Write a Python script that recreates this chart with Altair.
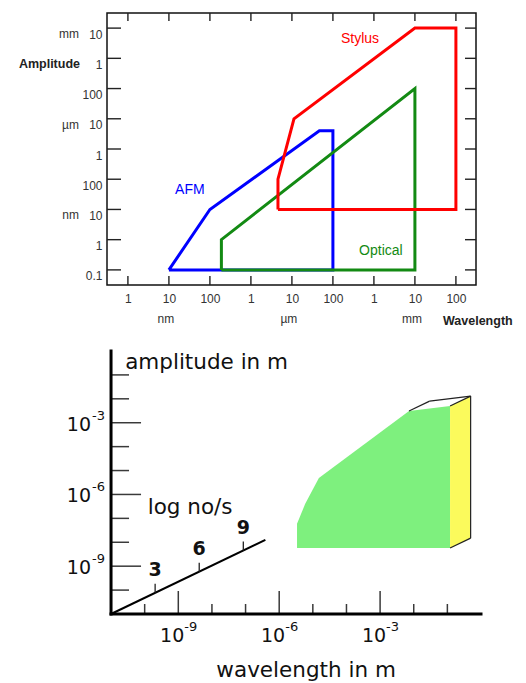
import altair as alt
import pandas as pd

# ================= Panel A: instrument ranges (log10 of metres) =================
instruments = ["AFM", "Optical", "Stylus"]
inst_colors = ["#0000ff", "#138a13", "#ff0000"]

afm_x = [-8.0, -7.0, -4.33, -4.0, -4.0, -8.0]
afm_y = [-10.0, -8.0, -5.4, -5.4, -10.0, -10.0]
optical_x = [-6.72, -6.72, -2.0, -2.0, -6.72]
optical_y = [-10.0, -9.0, -4.0, -10.0, -10.0]
stylus_x = [-5.34, -5.34, -4.95, -2.0, -1.0, -1.0, -5.34]
stylus_y = [-8.0, -7.0, -5.0, -2.0, -2.0, -8.0, -8.0]

inst_label_x = [-7.49, -2.83, -3.34]
inst_label_y = [-7.36, -9.36, -2.36]

xA_domain = [-9.51, -0.51]
yA_domain = [-10.5, -1.5]
xA_ticks = [-9, -8, -7, -6, -5, -4, -3, -2, -1]
xA_tick_labels = ["1", "10", "100", "1", "10", "100", "1", "10", "100"]
yA_ticks = [-10, -9, -8, -7, -6, -5, -4, -3, -2]
yA_tick_labels = ["0.1", "1", "10", "100", "1", "10", "100", "1", "10"]
unit_names = ["nm", "µm", "mm"]
unit_pos = [-8, -5, -2]
amp_title_pos = -3

# ================= Panel B: sketch (log10 of metres) =================
xB_domain = [-11.12, 0.0]
yB_domain = [-11.0, 0.0]
origin = -11.0
axis_end = 0.0
yB_major = [-3, -6, -9]
yB_minor = [-1, -2, -4, -5, -7, -8, -10]
xB_major = [-9, -6, -3]
xB_minor = [-10, -8, -7, -5, -4, -2, -1]
yB_exps = ["-3", "-6", "-9"]
xB_exps = ["-9", "-6", "-3"]

front_x = [-5.47, -5.23, -4.82, -2.14, -0.92]
front_top = [-7.23, -6.40, -5.31, -2.51, -2.30]
front_bottom = -8.24
box_depth = 1.4          # in log no/s units

rate_ticks = [3, 6, 9]
rate_end = 10.5
proj_dx = 0.437          # wavelength decades per log no/s unit (oblique axis)
proj_dy = 0.295          # amplitude decades per log no/s unit (oblique axis)

# ---------------- sizes / styles ----------------
WA, HA = 369, 272
WB, HB = 374, 263
kxB = WB / (xB_domain[1] - xB_domain[0])
kyB = HB / (yB_domain[1] - yB_domain[0])
FONT_A = "Liberation Sans"
FONT_B = "DejaVu Sans"


def arr_expr(labels, first):
    return "[" + ",".join("'" + s + "'" for s in labels) + "][datum.value - (" + str(first) + ")]"


axisXA = alt.Axis(values=xA_ticks, labelExpr=arr_expr(xA_tick_labels, xA_ticks[0]),
                  ticks=False, domain=False, grid=False, title=None, labelPadding=8,
                  labelFontSize=12, labelFont=FONT_A, labelColor="#333333", labelAngle=0,
                  labelFlush=False, labelOverlap=False)
axisYA = alt.Axis(values=yA_ticks, labelExpr=arr_expr(yA_tick_labels, yA_ticks[0]),
                  ticks=False, domain=False, grid=False, title=None, labelPadding=5,
                  labelOffset=6, labelFontSize=12, labelFont=FONT_A, labelColor="#333333",
                  labelFlush=False, labelOverlap=False)


def XA(f="x"):
    return alt.X(f + ":Q", scale=alt.Scale(domain=xA_domain, nice=False, zero=False), axis=axisXA)


def YA(f="y"):
    return alt.Y(f + ":Q", scale=alt.Scale(domain=yA_domain, nice=False, zero=False), axis=axisYA)


def XB(f="x"):
    return alt.X(f + ":Q", scale=alt.Scale(domain=xB_domain, nice=False, zero=False), axis=None)


def YB(f="y"):
    return alt.Y(f + ":Q", scale=alt.Scale(domain=yB_domain, nice=False, zero=False), axis=None)


# ---------------- Panel A layers ----------------
frame_df = pd.DataFrame({"x": [xA_domain[0]], "x2": [xA_domain[1]],
                         "y": [yA_domain[0]], "y2": [yA_domain[1]]})
frame = alt.Chart(frame_df).mark_rect(fill="white", stroke="#111111", strokeWidth=1.5).encode(
    x=XA(), x2="x2:Q", y=YA(), y2="y2:Q")

ytick_df = pd.DataFrame({"y": yA_ticks})
xtick_df = pd.DataFrame({"x": xA_ticks})
tick_style = dict(color="#222222", strokeWidth=1.4)
t_left = alt.Chart(ytick_df).mark_rule(**tick_style).encode(y=YA(), x=alt.value(0), x2=alt.value(14))
t_right = alt.Chart(ytick_df).mark_rule(**tick_style).encode(y=YA(), x=alt.value(WA - 11), x2=alt.value(WA))
t_bottom = alt.Chart(xtick_df).mark_rule(**tick_style).encode(x=XA(), y=alt.value(HA - 9), y2=alt.value(HA))
t_top = alt.Chart(xtick_df).mark_rule(**tick_style).encode(x=XA(), y=alt.value(0), y2=alt.value(8))

rows = []
for name, xs, ys in [("AFM", afm_x, afm_y), ("Optical", optical_x, optical_y), ("Stylus", stylus_x, stylus_y)]:
    for i, (a, b) in enumerate(zip(xs, ys)):
        rows.append({"instrument": name, "idx": i, "x": a, "y": b})
poly_df = pd.DataFrame(rows)
color_enc = alt.Color("instrument:N", scale=alt.Scale(domain=instruments, range=inst_colors), legend=None)
polys = alt.Chart(poly_df).mark_line(strokeWidth=3, strokeJoin="miter").encode(
    x=XA(), y=YA(), color=color_enc, detail="instrument:N", order="idx:Q")

lab_df = pd.DataFrame({"instrument": instruments, "x": inst_label_x, "y": inst_label_y})
inst_labels = alt.Chart(lab_df).mark_text(fontSize=14, font=FONT_A).encode(
    x=XA(), y=YA(), text="instrument:N", color=color_enc)

yunit_df = pd.DataFrame({"y": unit_pos, "t": unit_names})
yunits = alt.Chart(yunit_df).mark_text(align="right", baseline="middle", fontSize=12, font=FONT_A,
                                       dy=6, color="#333333").encode(
    y=YA(), x=alt.value(-28), text="t:N")
amp_df = pd.DataFrame({"y": [amp_title_pos], "t": ["Amplitude"]})
amp_title = alt.Chart(amp_df).mark_text(align="right", baseline="middle", fontSize=12.5, font=FONT_A,
                                        fontWeight="bold", dy=6, color="#222222").encode(
    y=YA(), x=alt.value(-27), text="t:N")
xunit_df = pd.DataFrame({"x": unit_pos, "t": unit_names})
xunits = alt.Chart(xunit_df).mark_text(baseline="middle", fontSize=12, font=FONT_A, dx=-3,
                                       color="#333333").encode(
    x=XA(), y=alt.value(HA + 34), text="t:N")
wl_df = pd.DataFrame({"t": ["Wavelength"]})
wl_title = alt.Chart(wl_df).mark_text(align="left", baseline="middle", fontSize=12.5, font=FONT_A,
                                      fontWeight="bold", color="#222222").encode(
    x=alt.value(WA - 33), y=alt.value(HA + 36), text="t:N")

top = alt.layer(frame, t_left, t_right, t_bottom, t_top, polys, inst_labels,
                yunits, amp_title, xunits, wl_title).properties(width=WA, height=HA)

# ---------------- Panel B layers ----------------
shift_x = box_depth * proj_dx
shift_y = box_depth * proj_dy

green_df = pd.DataFrame({"x": front_x, "y": front_top, "y2": [front_bottom] * len(front_x)})
green = alt.Chart(green_df).mark_area(color="#7ef07e", opacity=1).encode(x=XB(), y=YB(), y2="y2:Q")

side_df = pd.DataFrame({"x": [front_x[-1], front_x[-1] + shift_x],
                        "y": [front_top[-1], front_top[-1] + shift_y],
                        "y2": [front_bottom, front_bottom + shift_y]})
side = alt.Chart(side_df).mark_area(color="#fbfa5c", opacity=1).encode(x=XB(), y=YB(), y2="y2:Q")

fl_x, fl_y = front_x[-2], front_top[-2]
fr_x, fr_y = front_x[-1], front_top[-1]
edges = [
    (fl_x, fl_y, fl_x + shift_x, fl_y + shift_y),
    (fl_x + shift_x, fl_y + shift_y, fr_x + shift_x, fr_y + shift_y),
    (fr_x, fr_y, fr_x + shift_x, fr_y + shift_y),
    (fr_x + shift_x, fr_y + shift_y, fr_x + shift_x, front_bottom + shift_y),
    (fr_x, front_bottom, fr_x + shift_x, front_bottom + shift_y),
]
edge_df = pd.DataFrame([{"x": a, "y": b, "x2": c, "y2": d} for a, b, c, d in edges])
edge_rules = alt.Chart(edge_df).mark_rule(color="#222222", strokeWidth=1.2).encode(
    x=XB(), y=YB(), x2="x2:Q", y2="y2:Q")

axes_df = pd.DataFrame({"x": [origin, origin], "y": [origin, origin],
                        "x2": [origin, axis_end], "y2": [axis_end, origin]})
axis_lines = alt.Chart(axes_df).mark_rule(color="black", strokeWidth=3, strokeCap="square").encode(
    x=XB(), y=YB(), x2="x2:Q", y2="y2:Q")

ytick_rows = [{"y": v, "x": origin, "x2": origin + 30 / kxB} for v in yB_major] + \
             [{"y": v, "x": origin, "x2": origin + 18 / kxB} for v in yB_minor]
xtick_rows = [{"x": v, "y": origin, "y2": origin + 23 / kyB} for v in xB_major] + \
             [{"x": v, "y": origin, "y2": origin + 10 / kyB} for v in xB_minor]
ytB = alt.Chart(pd.DataFrame(ytick_rows)).mark_rule(color="#3a3a3a", strokeWidth=1.5).encode(
    x=XB(), x2="x2:Q", y=YB())
xtB = alt.Chart(pd.DataFrame(xtick_rows)).mark_rule(color="#3a3a3a", strokeWidth=1.5).encode(
    x=XB(), y=YB(), y2="y2:Q")

ylabB_df = pd.DataFrame({"y": yB_major, "b": ["10"] * 3, "e": yB_exps, "x": [origin] * 3})
ylab_base = alt.Chart(ylabB_df).mark_text(align="right", baseline="middle", fontSize=19, font=FONT_B,
                                          dx=-20, dy=2, color="#111111").encode(x=XB(), y=YB(), text="b:N")
ylab_exp = alt.Chart(ylabB_df).mark_text(align="left", baseline="middle", fontSize=13, font=FONT_B,
                                         dx=-19, dy=-7, color="#111111").encode(x=XB(), y=YB(), text="e:N")
xlabB_df = pd.DataFrame({"x": xB_major, "b": ["10"] * 3, "e": xB_exps, "y": [origin] * 3})
xlab_base = alt.Chart(xlabB_df).mark_text(align="right", baseline="middle", fontSize=19, font=FONT_B,
                                          dx=6, dy=22, color="#111111").encode(x=XB(), y=YB(), text="b:N")
xlab_exp = alt.Chart(xlabB_df).mark_text(align="left", baseline="middle", fontSize=13, font=FONT_B,
                                         dx=6, dy=13, color="#111111").encode(x=XB(), y=YB(), text="e:N")

rate_line_df = pd.DataFrame({"x": [origin], "y": [origin],
                             "x2": [origin + rate_end * proj_dx], "y2": [origin + rate_end * proj_dy]})
rate_line = alt.Chart(rate_line_df).mark_rule(color="black", strokeWidth=2).encode(
    x=XB(), y=YB(), x2="x2:Q", y2="y2:Q")
rate_df = pd.DataFrame({"n": [str(v) for v in rate_ticks],
                        "x": [origin + v * proj_dx for v in rate_ticks],
                        "y": [origin + v * proj_dy for v in rate_ticks],
                        "y2": [origin + v * proj_dy + 9 / kyB for v in rate_ticks]})
rate_tk = alt.Chart(rate_df).mark_rule(color="#222222", strokeWidth=1.3).encode(
    x=XB(), y=YB(), y2="y2:Q")
rate_lab = alt.Chart(rate_df).mark_text(fontSize=19, font=FONT_B, fontWeight="bold", dy=-23,
                                        baseline="middle", color="#111111").encode(
    x=XB(), y=YB(), text="n:N")

title_texts = ["amplitude in m", "log no/s", "wavelength in m"]
title_x = [-10.58, -8.65, -5.20]
title_y = [-0.50, -6.57, -13.38]
title_align = ["left", "center", "center"]
tdf = pd.DataFrame({"t": title_texts, "x": title_x, "y": title_y, "a": title_align})
titles_left = alt.Chart(tdf[tdf.a == "left"]).mark_text(align="left", baseline="middle", fontSize=21.5,
                                                        font=FONT_B, color="#111111").encode(
    x=XB(), y=YB(), text="t:N")
titles_center = alt.Chart(tdf[tdf.a == "center"]).mark_text(align="center", baseline="middle",
                                                            fontSize=21.5, font=FONT_B,
                                                            color="#111111").encode(
    x=XB(), y=YB(), text="t:N")

bottom = alt.layer(green, side, edge_rules, ytB, xtB, axis_lines, rate_line, rate_tk, rate_lab,
                   ylab_base, ylab_exp, xlab_base, xlab_exp, titles_left, titles_center
                   ).properties(width=WB, height=HB)

chart = alt.vconcat(top, bottom, spacing=66, bounds="flush").properties(
    padding={"left": 18, "top": 12, "right": 5, "bottom": 5},
    background="white",
).configure_view(strokeWidth=0)

chart.save("out.html", embed_options={"renderer": "svg", "actions": False})
